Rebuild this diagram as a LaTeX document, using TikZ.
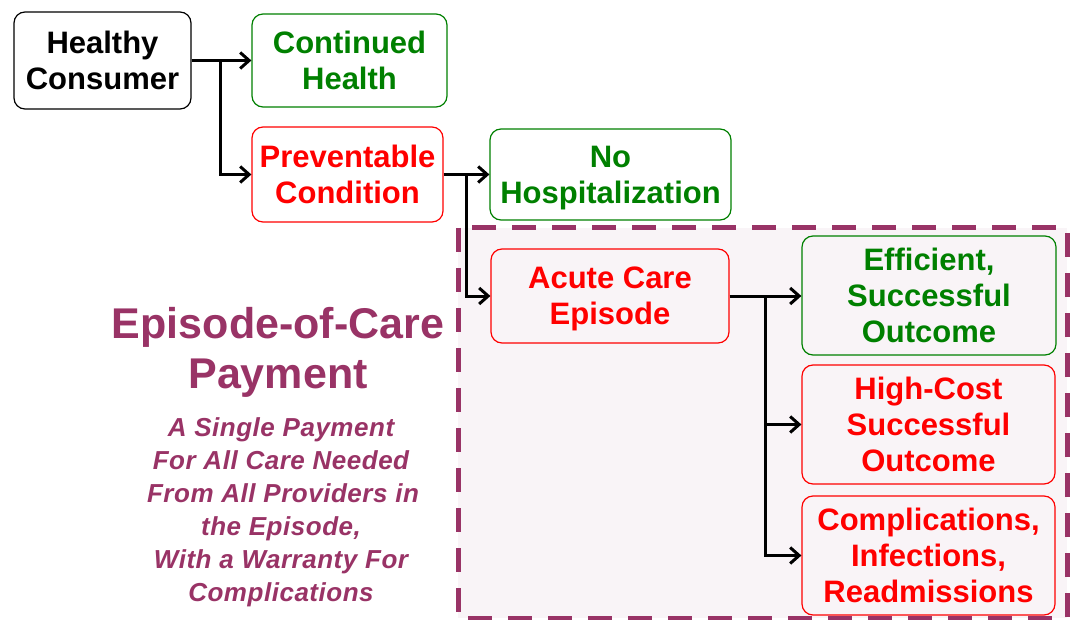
\documentclass[tikz,border=0pt]{standalone}
\usepackage{fontspec}
\setmainfont{Liberation Sans}
\newfontfamily\subfont[LetterSpace=2]{Liberation Sans}
\usetikzlibrary{arrows.meta}
\definecolor{grn}{RGB}{0,128,0}
\definecolor{rd}{RGB}{255,0,0}
\definecolor{plum}{RGB}{153,51,102}
\definecolor{pale}{RGB}{249,244,247}
\begin{document}
\begin{tikzpicture}[x=1pt,y=-1pt,
  box/.style={draw, rounded corners=11pt, align=center, inner sep=0pt, line width=1.2pt,
    font=\fontsize{31}{36}\selectfont\bfseries},
  gbox/.style={box, draw=grn, text=grn},
  rbox/.style={box, draw=rd, text=rd},
  conn/.style={line width=3pt, -{Straight Barb[length=9pt,width=16pt,line width=3pt]}},
  seg/.style={line width=3pt},
  ttl/.style={text=plum, inner sep=0pt, anchor=base, font=\fontsize{43}{50}\selectfont\bfseries},
  sub/.style={text=plum, inner sep=0pt, anchor=base, font=\fontsize{26}{33}\subfont\bfseries\itshape}]
\useasboundingbox (0,0) rectangle (1073,620);
\fill[white] (0,0) rectangle (1073,620);
% episode region
\draw[draw=plum, fill=pale, line width=5pt, dash pattern=on 24pt off 16pt] (458,228) rectangle (1067,618);
% boxes
\node[box, draw=black, minimum width=177pt, minimum height=97pt] (hc) at (102.5,60.5) {Healthy\\Consumer};
\node[gbox, minimum width=195pt, minimum height=93pt] (ch) at (349.5,60.5) {Continued\\Health};
\node[rbox, minimum width=191pt, minimum height=95pt] (pc) at (347.5,174.5) {Preventable\\Condition};
\node[gbox, minimum width=241pt, minimum height=91pt, text depth=0pt] (nh) at (610.5,174.5) {No\\Hospitalization};
\node[rbox, minimum width=238pt, minimum height=94pt, text depth=0pt] (ac) at (610,296) {Acute Care\\Episode};
\node[gbox, minimum width=254pt, minimum height=119pt] (eso) at (929,295.5) {Efficient,\\Successful\\Outcome};
\node[rbox, minimum width=253pt, minimum height=119pt] (hcs) at (928.5,424.5) {High-Cost\\Successful\\Outcome};
\node[rbox, minimum width=253pt, minimum height=119pt] (cir) at (928.5,555.5) {Complications,\\Infections,\\Readmissions};
% connectors
\draw[seg] (hc.east) -- ++(29,0) coordinate (j1);
\draw[conn] (j1) -- (ch.west);
\draw[conn] (j1) |- (pc.west);
\draw[seg] (pc.east) -- ++(23,0) coordinate (j2);
\draw[conn] (j2) -- (nh.west);
\draw[conn] (j2) |- (ac.west);
\draw[seg] (ac.east) -- ++(36,0) coordinate (j3);
\draw[conn] (j3) -- (j3 -| eso.west);
\draw[conn] (j3) |- (hcs.west);
\draw[conn] (j3) |- (cir.west);
% left text
\node[ttl] (t1) at (278,338) {Episode-of-Care};
\node[ttl] (t2) at (278,388) {Payment};
\node[sub] (s1) at (281,436) {A Single Payment};
\node[sub] (s2) at (281,469) {For All Care Needed};
\node[sub] (s3) at (283,502) {From All Providers in};
\node[sub] (s4) at (281,535) {the Episode,};
\node[sub] (s5) at (281,568) {With a Warranty For};
\node[sub] (s6) at (281,601) {Complications};
\end{tikzpicture}
\end{document}
